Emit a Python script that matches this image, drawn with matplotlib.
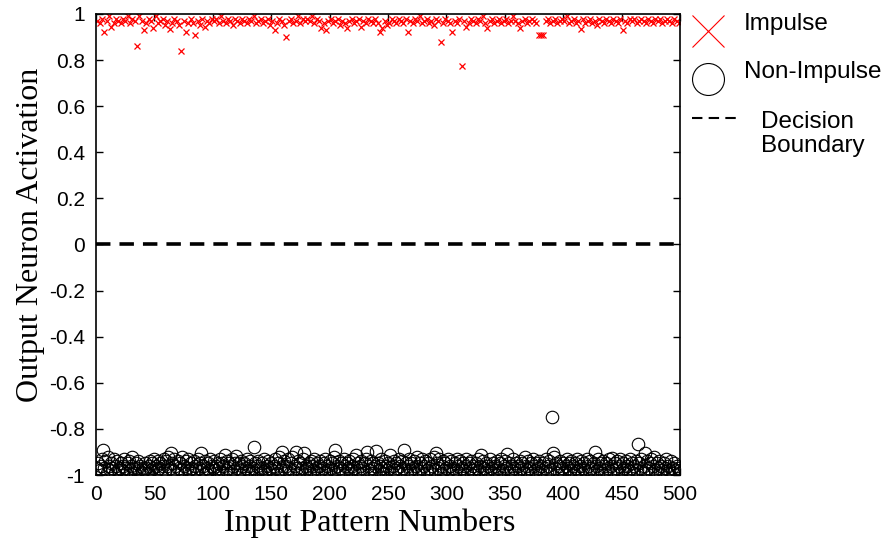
import matplotlib.pyplot as plt
from matplotlib.lines import Line2D

# red crosses: impulse patterns (odd pattern numbers)
impulse_x = list(range(1, 500, 2))
impulse_y = [
    0.97, 0.96, 0.98, 0.92, 0.97, 0.99, 0.945, 0.96, 0.98, 0.97,
    0.96, 0.98, 0.97, 0.99, 0.96, 0.98, 0.97, 0.86, 0.99, 0.97,
    0.93, 0.96, 0.98, 0.97, 0.94, 0.99, 0.96, 0.97, 0.98, 0.95,
    0.97, 0.935, 0.96, 0.98, 0.97, 0.95, 0.84, 0.97, 0.92, 0.96,
    0.98, 0.96, 0.91, 0.97, 0.95, 0.98, 0.945, 0.97, 0.96, 0.98,
    0.97, 0.98, 0.96, 0.99, 0.97, 0.96, 0.98, 0.97, 0.95, 0.98,
    0.97, 0.96, 0.98, 0.97, 0.96, 0.98, 0.97, 0.99, 0.96, 0.97,
    0.98, 0.96, 0.97, 0.98, 0.95, 0.97, 0.93, 0.96, 0.98, 0.97,
    0.95, 0.90, 0.97, 0.98, 0.96, 0.97, 0.99, 0.96, 0.98, 0.97,
    0.98, 0.97, 0.99, 0.96, 0.98, 0.97, 0.94, 0.96, 0.93, 0.97,
    0.98, 0.96, 0.97, 0.98, 0.95, 0.97, 0.96, 0.94, 0.97, 0.98,
    0.96, 0.97, 0.98, 0.945, 0.97, 0.96, 0.98, 0.97, 0.96, 0.98,
    0.96, 0.92, 0.94, 0.97, 0.95, 0.96, 0.98, 0.97, 0.96, 0.98,
    0.97, 0.96, 0.98, 0.92, 0.97, 0.96, 0.98, 0.97, 0.99, 0.96,
    0.97, 0.98, 0.96, 0.97, 0.95, 0.98, 0.97, 0.88, 0.96, 0.98,
    0.97, 0.96, 0.92, 0.97, 0.96, 0.98, 0.775, 0.97, 0.945, 0.96,
    0.98, 0.97, 0.96, 0.98, 0.97, 0.99, 0.96, 0.94, 0.97, 0.98,
    0.96, 0.97, 0.98, 0.96, 0.97, 0.98, 0.96, 0.97, 0.99, 0.97,
    0.96, 0.94, 0.97, 0.98, 0.96, 0.97, 0.98, 0.97, 0.96, 0.91,
    0.91, 0.91, 0.97, 0.98, 0.96, 0.97, 0.98, 0.96, 0.97, 0.98,
    0.97, 0.99, 0.96, 0.97, 0.98, 0.96, 0.97, 0.935, 0.98, 0.96,
    0.97, 0.98, 0.96, 0.97, 0.95, 0.98, 0.97, 0.96, 0.98, 0.97,
    0.96, 0.98, 0.97, 0.96, 0.98, 0.93, 0.97, 0.96, 0.98, 0.97,
    0.98, 0.96, 0.97, 0.98, 0.97, 0.96, 0.98, 0.97, 0.96, 0.98,
    0.97, 0.98, 0.96, 0.97, 0.98, 0.97, 0.96, 0.98, 0.97, 0.96,
]

# black circles: non-impulse patterns 1..500
non_impulse_x = list(range(1, 501))
non_impulse_y = [
    -0.97, -0.95, -0.98, -0.96, -0.93, -0.89, -0.97, -0.94, -0.99, -0.92, -0.96, -0.98, -0.95, -0.97, -0.93, -0.99, -0.96, -0.94, -0.98, -0.97,
    -0.95, -0.98, -0.96, -0.93, -0.97, -0.99, -0.95, -0.94, -0.98, -0.96, -0.92, -0.97, -0.99, -0.95, -0.97, -0.94, -0.98, -0.96, -0.99, -0.97,
    -0.98, -0.95, -0.97, -0.99, -0.96, -0.94, -0.98, -0.95, -0.97, -0.93, -0.96, -0.98, -0.94, -0.97, -0.95, -0.99, -0.96, -0.93, -0.98, -0.94,
    -0.96, -0.92, -0.97, -0.905, -0.95, -0.98, -0.93, -0.96, -0.99, -0.94, -0.97, -0.95, -0.98, -0.92, -0.96, -0.99, -0.94, -0.97, -0.93, -0.98,
    -0.95, -0.97, -0.99, -0.94, -0.96, -0.98, -0.93, -0.97, -0.95, -0.905, -0.98, -0.96, -0.94, -0.99, -0.97, -0.95, -0.98, -0.93, -0.96, -0.97,
    -0.94, -0.98, -0.96, -0.95, -0.97, -0.93, -0.99, -0.95, -0.96, -0.913, -0.98, -0.94, -0.97, -0.95, -0.99, -0.93, -0.96, -0.98, -0.95, -0.916,
    -0.97, -0.95, -0.98, -0.94, -0.96, -0.99, -0.95, -0.97, -0.93, -0.98, -0.96, -0.94, -0.99, -0.97, -0.88, -0.95, -0.98, -0.96, -0.94, -0.97,
    -0.99, -0.95, -0.97, -0.93, -0.98, -0.96, -0.94, -0.99, -0.97, -0.95, -0.98, -0.96, -0.93, -0.97, -0.99, -0.95, -0.92, -0.98, -0.90, -0.96,
    -0.94, -0.98, -0.96, -0.93, -0.97, -0.99, -0.95, -0.92, -0.98, -0.96, -0.90, -0.97, -0.94, -0.99, -0.95, -0.97, -0.93, -0.905, -0.98, -0.96,
    -0.97, -0.95, -0.99, -0.94, -0.96, -0.98, -0.93, -0.97, -0.95, -0.99, -0.96, -0.94, -0.98, -0.97, -0.95, -0.93, -0.99, -0.96, -0.98, -0.94,
    -0.97, -0.95, -0.98, -0.92, -0.89, -0.96, -0.99, -0.94, -0.97, -0.95, -0.98, -0.93, -0.96, -0.99, -0.95, -0.97, -0.94, -0.98, -0.96, -0.93,
    -0.97, -0.99, -0.913, -0.95, -0.98, -0.96, -0.94, -0.97, -0.99, -0.95, -0.93, -0.90, -0.96, -0.98, -0.94, -0.97, -0.95, -0.99, -0.96, -0.894,
    -0.95, -0.98, -0.96, -0.93, -0.97, -0.99, -0.94, -0.96, -0.98, -0.95, -0.97, -0.913, -0.99, -0.96, -0.94, -0.98, -0.95, -0.97, -0.93, -0.96,
    -0.98, -0.94, -0.97, -0.89, -0.95, -0.99, -0.96, -0.93, -0.98, -0.95, -0.97, -0.94, -0.99, -0.96, -0.92, -0.98, -0.95, -0.97, -0.93, -0.99,
    -0.96, -0.94, -0.98, -0.95, -0.97, -0.93, -0.99, -0.96, -0.92, -0.98, -0.905, -0.95, -0.97, -0.93, -0.99, -0.96, -0.94, -0.98, -0.95, -0.97,
    -0.93, -0.98, -0.96, -0.94, -0.99, -0.97, -0.95, -0.98, -0.93, -0.96, -0.99, -0.94, -0.97, -0.95, -0.98, -0.96, -0.93, -0.99, -0.95, -0.97,
    -0.94, -0.98, -0.96, -0.99, -0.95, -0.97, -0.93, -0.98, -0.96, -0.913, -0.94, -0.97, -0.99, -0.95, -0.98, -0.96, -0.93, -0.97, -0.99, -0.95,
    -0.98, -0.96, -0.94, -0.97, -0.99, -0.95, -0.93, -0.98, -0.96, -0.94, -0.97, -0.909, -0.99, -0.95, -0.98, -0.96, -0.93, -0.97, -0.99, -0.95,
    -0.96, -0.98, -0.94, -0.97, -0.95, -0.99, -0.92, -0.96, -0.98, -0.94, -0.97, -0.95, -0.99, -0.93, -0.96, -0.98, -0.95, -0.97, -0.94, -0.99,
    -0.96, -0.98, -0.95, -0.97, -0.93, -0.99, -0.96, -0.94, -0.98, -0.75, -0.905, -0.92, -0.97, -0.95, -0.99, -0.96, -0.94, -0.98, -0.97, -0.95,
    -0.99, -0.96, -0.93, -0.97, -0.95, -0.98, -0.94, -0.96, -0.99, -0.95, -0.97, -0.93, -0.98, -0.96, -0.94, -0.99, -0.97, -0.95, -0.98, -0.93,
    -0.96, -0.98, -0.94, -0.97, -0.99, -0.95, -0.90, -0.96, -0.98, -0.93, -0.97, -0.95, -0.99, -0.94, -0.96, -0.98, -0.95, -0.97, -0.93, -0.99,
    -0.96, -0.927, -0.98, -0.95, -0.97, -0.94, -0.99, -0.96, -0.93, -0.98, -0.95, -0.97, -0.99, -0.94, -0.96, -0.98, -0.93, -0.97, -0.95, -0.99,
    -0.96, -0.94, -0.98, -0.866, -0.95, -0.97, -0.93, -0.99, -0.96, -0.905, -0.98, -0.94, -0.97, -0.95, -0.93, -0.99, -0.96, -0.92, -0.98, -0.95,
    -0.97, -0.94, -0.99, -0.96, -0.98, -0.95, -0.97, -0.93, -0.99, -0.96, -0.98, -0.94, -0.97, -0.99, -0.95, -0.98, -0.96, -0.97, -0.99, -0.98,
]

boundary = 0.0
x_ticks = list(range(0, 501, 50))
y_ticks = [-1, -0.8, -0.6, -0.4, -0.2, 0, 0.2, 0.4, 0.6, 0.8, 1]
y_tick_labels = ["-1", "-0.8", "-0.6", "-0.4", "-0.2", "0", "0.2", "0.4", "0.6", "0.8", "1"]

plt.rcParams['font.family'] = ['Liberation Sans', 'DejaVu Sans']

W, H = 886, 548
fig = plt.figure(figsize=(W / 100, H / 100), dpi=100)
ax = fig.add_axes([0.1084, 0.1332, 0.6591, 0.8413])

ax.plot(non_impulse_x, non_impulse_y, linestyle='none', marker='o', markersize=9,
        markerfacecolor='none', markeredgecolor='black', markeredgewidth=0.8)
ax.plot(impulse_x, impulse_y, linestyle='none', marker='x', markersize=4,
        color='red', markeredgewidth=0.9)
ax.axhline(boundary, color='black', linestyle=(0, (4, 2.5)), linewidth=2.6)

ax.set_xlim(0, 500)
ax.set_ylim(-1, 1)
ax.set_xticks(x_ticks)
ax.set_yticks(y_ticks)
ax.set_yticklabels(y_tick_labels)
ax.tick_params(direction='in', length=5, width=1, top=True, right=True,
               labelsize=15)
ax.tick_params(axis='y', pad=8)
ax.tick_params(axis='x', pad=7)
for s in ax.spines.values():
    s.set_linewidth(1.2)

ax.set_xlabel("Input Pattern Numbers", family='Liberation Serif', fontsize=23)
ax.set_ylabel("Output Neuron Activation", family='Liberation Serif', fontsize=23)
ax.xaxis.set_label_coords(0.469, -0.072)
ax.yaxis.set_label_coords(-0.088, 0.521)

# legend drawn by hand, in pixel positions of the figure
def px(x, y):
    return x / W, 1 - y / H

tf = fig.transFigure
fig.add_artist(Line2D([px(708, 31)[0]], [px(708, 31)[1]], transform=tf, linestyle='none',
                      marker='x', markersize=23, color='red', markeredgewidth=0.8))
fig.add_artist(Line2D([px(708, 79)[0]], [px(708, 79)[1]], transform=tf, linestyle='none',
                      marker='o', markersize=23, markerfacecolor='none',
                      markeredgecolor='black', markeredgewidth=0.8))
fig.add_artist(Line2D([px(692, 118)[0], px(741, 118)[0]], [px(692, 118)[1], px(741, 118)[1]],
                      transform=tf, color='black', linestyle=(0, (5, 3)), linewidth=1.5))
legend_texts = [("Impulse", 744, 30), ("Non-Impulse", 744, 78),
                ("Decision", 761, 128), ("Boundary", 761, 152)]
for txt, tx, ty in legend_texts:
    fig.text(*px(tx, ty), txt, fontsize=17.5, ha='left', va='baseline')

fig.savefig("out.png", dpi=100)
